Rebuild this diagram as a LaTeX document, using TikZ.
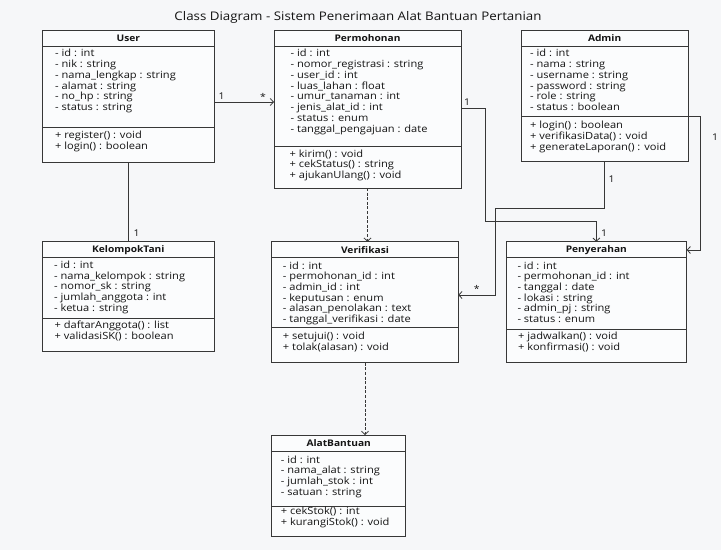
\documentclass[tikz,border=0pt]{standalone}
\usepackage{fontspec}
\setmainfont{Open Sans}[FakeStretch=1.12]
\usetikzlibrary{arrows.meta}
\definecolor{bg}{RGB}{246,247,249}
\definecolor{ln}{RGB}{55,55,55}
\definecolor{tx}{RGB}{20,20,20}
\tikzset{
  clsbox/.style={draw=ln, line width=0.9pt, fill=white!60!bg, inner sep=0pt, outer sep=0pt},
  sepline/.style={draw=ln, line width=0.8pt},
  hdr/.style={inner sep=0pt, font=\fontsize{9.1}{11}\selectfont\bfseries, text=tx},
  txt/.style={anchor=west, inner sep=0pt, font=\fontsize{9.9}{11}\selectfont, text=tx, text height=6.5pt, text depth=1.8pt},
  mult/.style={anchor=base, inner sep=0pt, font=\fontsize{9.3}{11}\selectfont, text=tx},
  assoc/.style={draw=ln, line width=0.8pt, -{Straight Barb[length=3.2pt,width=7pt]}},
  plainline/.style={draw=ln, line width=0.8pt},
  dep/.style={draw=ln, line width=0.8pt, dash pattern=on 3pt off 1.6pt, -{Straight Barb[length=3.2pt,width=7pt]}},
}
\newcommand\umlbox[7]{%
  \node[clsbox, anchor=north west, minimum width={#4-#2}, minimum height={#5-#3}] (#1) at (#2,#3) {};
  \draw[sepline] (#2,{#3+16}) -- (#4,{#3+16});
  \draw[sepline] (#2,#6) -- (#4,#6);
  \node[hdr] (#1-title) at ({(#2+#4)/2},{#3+8.3}) {#7};
}
\newcommand\umllines[5]{%
  \foreach \t [count=\i] in {#5} {\node[txt] (#1-\i) at (#2,{#3+(\i-1)*#4}) {\t};}
}
\begin{document}
\begin{tikzpicture}[x=1pt,y=-1pt]
\fill[bg] (0,0) rectangle (721,550);
\useasboundingbox (0,0) rectangle (721,550);

\node[inner sep=0pt, anchor=base, font=\fontsize{11.9}{13}\selectfont, text=tx] (title) at (358,20) {Class Diagram - Sistem Penerimaan Alat Bantuan Pertanian};

% User
\umlbox{user}{42.7}{30}{214}{162}{127}{User}
\umllines{usera}{55}{54.3}{10.8}{- id : int, - nik : string, - nama\_lengkap : string, - alamat : string, - no\_hp : string, - status : string}
\umllines{userm}{55}{135.7}{11.4}{+ register() : void, + login() : boolean}

% Permohonan
\umlbox{perm}{274}{30}{461}{188}{146}{Permohonan}
\umllines{perma}{290.5}{54.3}{10.8}{- id : int, - nomor\_registrasi : string, - user\_id : int, - luas\_lahan : float, - umur\_tanaman : int, - jenis\_alat\_id : int, - status : enum, - tanggal\_pengajuan : date}
\umllines{permm}{289.5}{155}{10.4}{+ kirim() : void, + cekStatus() : string, + ajukanUlang() : void}

% Admin
\umlbox{admin}{521}{30}{688.3}{161.7}{116.7}{Admin}
\umllines{admina}{530}{54.3}{10.8}{- id : int, - nama : string, - username : string, - password : string, - role : string, - status : boolean}
\umllines{adminm}{530}{126}{10.85}{+ login() : boolean, + verifikasiData() : void, + generateLaporan() : void}

% KelompokTani
\umlbox{kt}{42.7}{241.7}{214}{351.7}{318}{KelompokTani}
\umllines{kta}{54}{266}{10.8}{- id : int, - nama\_kelompok : string, - nomor\_sk : string, - jumlah\_anggota : int, - ketua : string}
\umllines{ktm}{54.5}{326}{11.3}{+ daftarAnggota() : list, + validasiSK() : boolean}

% Verifikasi
\umlbox{ver}{271.7}{241.7}{458.3}{362.7}{327.7}{Verifikasi}
\umllines{vera}{282.7}{266.7}{10.67}{- id : int, - permohonan\_id : int, - admin\_id : int, - keputusan : enum, - alasan\_penolakan : text, - tanggal\_verifikasi : date}
\umllines{verm}{282.7}{337.3}{10.4}{+ setujui() : void, + tolak(alasan) : void}

% Penyerahan
\umlbox{pen}{506}{241.7}{686.7}{362.7}{329.3}{Penyerahan}
\umllines{pena}{517.3}{266.7}{10.67}{- id : int, - permohonan\_id : int, - tanggal : date, - lokasi : string, - admin\_pj : string, - status : enum}
\umllines{penm}{518}{337.3}{10.4}{+ jadwalkan() : void, + konfirmasi() : void}

% AlatBantuan
\umlbox{ab}{271.7}{435}{405.7}{536.7}{506.7}{AlatBantuan}
\umllines{aba}{280.7}{460.7}{10.9}{- id : int, - nama\_alat : string, - jumlah\_stok : int, - satuan : string}
\umllines{abm}{280.7}{511.7}{11.6}{+ cekStok() : int, + kurangiStok() : void}

% connectors
\coordinate (k5) at (485.7,221.7);
\coordinate (k6) at (495,208);
\coordinate (k7) at (700,116.7);

\draw[assoc] ([yshift=-72pt]user.north east) -- ([yshift=-72pt]perm.north west);
\draw[plainline] (user.south) -- (kt.north);
\draw[dep] (perm.south) -- (perm.south |- ver.north);
\draw[dep] (ver.south) -- (ver.south |- ab.north);
\draw[assoc] ([yshift=-78pt]perm.north east) -| (k5) -| (pen.north);
\draw[assoc] (admin.south) |- (k6) |- ([yshift=-53.3pt]ver.north east);
\draw[assoc] ([yshift=-86.7pt]admin.north east) -- (k7) |- ([yshift=-8.3pt]pen.north east);

% multiplicities
\node[mult] (m1) at (221.7,99.5) {1};
\node[mult] (m2) at (263,100.5) {*};
\node[mult] (m3) at (136.7,236.5) {1};
\node[mult] (m4) at (467,105.5) {1};
\node[mult] (m5) at (604,236.5) {1};
\node[mult] (m6) at (611.7,182.5) {1};
\node[mult] (m7) at (476.7,292.5) {*};
\node[mult] (m8) at (715,140.5) {1};
\end{tikzpicture}
\end{document}
